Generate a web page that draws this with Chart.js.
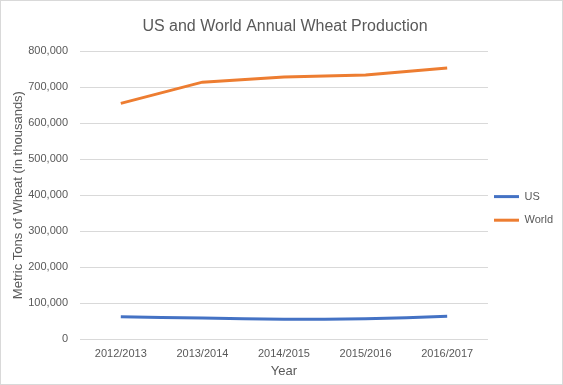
<!DOCTYPE html>
<html>
<head>
<meta charset="utf-8">
<script src="https://cdn.jsdelivr.net/npm/chart.js@4/dist/chart.umd.min.js"></script>
<style>
  html, body { margin: 0; padding: 0; background: #fff; }
  #box { width: 563px; height: 385px; box-sizing: border-box; border: 1px solid #d9d9d9; }
</style>
</head>
<body>
<div id="box"><canvas id="grafico"></canvas></div>
<script>
const anos = ["2012/2013", "2013/2014", "2014/2015", "2015/2016", "2016/2017"];
const producaoUS = [61700, 58100, 55100, 56100, 62900];
const producaoMundo = [655000, 714000, 728000, 734000, 753000];

const cinza = "#595959";
Chart.defaults.font.family = "'Liberation Sans', Arial, sans-serif";
Chart.defaults.color = cinza;

// texto em array para o espaçamento vertical seguir o lineHeight
const gerarLegenda = (chart) =>
  Chart.defaults.plugins.legend.labels
    .generateLabels(chart)
    .map((item) => ({ ...item, text: [item.text], lineWidth: 0 }));

const ctx = document.getElementById("grafico").getContext("2d");
new Chart(ctx, {
  type: "line",
  data: {
    labels: anos,
    datasets: [
      {
        label: "US",
        data: producaoUS,
        borderColor: "#4472C4",
        backgroundColor: "#4472C4",
        borderWidth: 3,
        pointRadius: 0,
        tension: 0.2,
      },
      {
        label: "World",
        data: producaoMundo,
        borderColor: "#ED7D31",
        backgroundColor: "#ED7D31",
        borderWidth: 3,
        pointRadius: 0,
        tension: 0,
      },
    ],
  },
  options: {
    responsive: true,
    maintainAspectRatio: false,
    animation: false,
    layout: { padding: { top: 8, left: 6, right: -1, bottom: 5 } },
    plugins: {
      title: {
        display: true,
        text: "US and World Annual Wheat Production",
        font: { size: 16, weight: "normal" },
        color: cinza,
        padding: { top: 8, bottom: 15 },
      },
      legend: {
        position: "right",
        title: { display: true, text: " ", font: { size: 12 }, padding: { top: 0, bottom: 21 } },
        labels: {
          boxWidth: 25,
          boxHeight: 3,
          padding: 6,
          font: { size: 11, lineHeight: 1.6 },
          color: cinza,
          generateLabels: gerarLegenda,
        },
      },
      tooltip: { enabled: false },
    },
    scales: {
      x: {
        offset: true,
        grid: { display: false, drawTicks: false },
        border: { display: false },
        afterFit: (escala) => { escala.height = 40; },
        ticks: { font: { size: 11 }, color: cinza, padding: 8, maxRotation: 0 },
        title: { display: true, text: "Year", font: { size: 13 }, color: cinza, padding: { top: 3, bottom: 0 } },
      },
      y: {
        min: 0,
        max: 800000,
        grid: { color: "#d9d9d9", drawTicks: false },
        border: { display: false },
        afterFit: (escala) => { escala.width = 73; },
        ticks: {
          stepSize: 100000,
          font: { size: 11 },
          color: cinza,
          padding: 12,
          callback: (v) => v.toLocaleString("en-US"),
        },
        title: {
          display: true,
          text: "Metric Tons of Wheat (in thousands)",
          font: { size: 13 },
          color: cinza,
          padding: { top: 4, bottom: 4 },
        },
      },
    },
  },
});
</script>
</body>
</html>
